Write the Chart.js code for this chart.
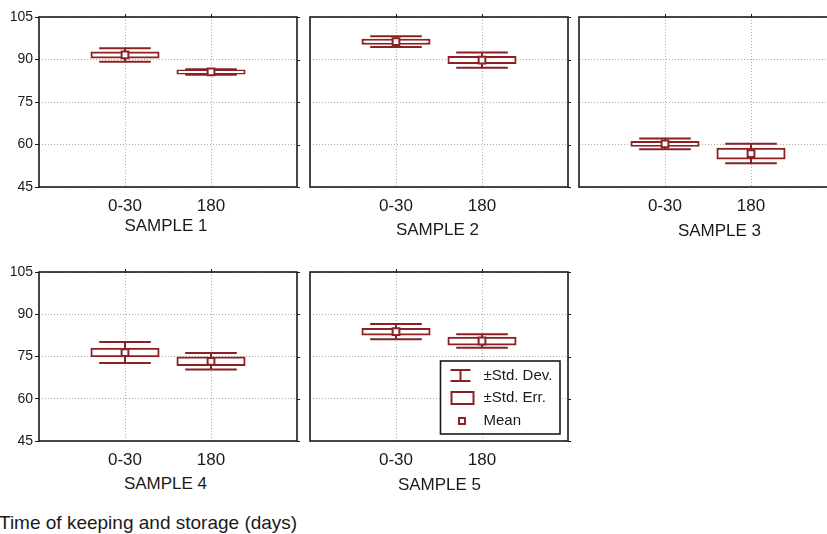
<!DOCTYPE html>
<html>
<head>
<meta charset="utf-8">
<script src="https://cdn.jsdelivr.net/npm/chart.js@4.4.0/dist/chart.umd.min.js"></script>
<style>
  html, body { margin:0; padding:0; background:#fff; width:827px; height:534px; overflow:hidden; position:relative;
    font-family:"Liberation Sans", Arial, sans-serif; color:#1a1a1a; }
  canvas { position:absolute; }
  .lbl { position:absolute; font-size:17px; line-height:17px; white-space:nowrap; transform:translateX(-50%); }
  #title { position:absolute; left:-1px; top:513px; font-size:19px; line-height:19px; white-space:nowrap; }
</style>
</head>
<body>
<div id="title"></div>
<script>
// ---------------- data ----------------
const categories = ['0-30', '180'];
const sampleNames = ['SAMPLE 1', 'SAMPLE 2', 'SAMPLE 3', 'SAMPLE 4', 'SAMPLE 5'];
const meanValues   = [[91.6, 85.6], [96.3, 89.8], [60.2, 56.8], [76.4, 73.3], [83.8, 80.5]];
const stdErrValues = [[0.85, 0.55], [0.7, 1.05], [0.65, 1.7], [1.35, 1.35], [0.95, 1.2]];
const stdDevValues = [[2.4, 0.95], [1.9, 2.7], [1.9, 3.45], [3.75, 2.95], [2.7, 2.4]];
const yTicks = [45, 60, 75, 90, 105];
const legendLabels = ['±Std. Dev.', '±Std. Err.', 'Mean'];
const axisTitle = 'Time of keeping and storage (days)';

// ---------------- layout / style ----------------
const RED = '#8c2124';
const INK = '#1a1a1a';
const GRID = '#ababab';
const FONT = '"Liberation Sans", Arial, sans-serif';
const Y_AXIS_W = 39, PAD_TOP = 17, PAD_RIGHT = 8, X_AXIS_H = 30;
const panelBoxes = [
  { left: 39,  top: 17,  w: 259, h: 170, yLabels: true,  nameX: 166,   nameY: 217 },
  { left: 310, top: 17,  w: 259, h: 170, yLabels: false, nameX: 437.5, nameY: 221 },
  { left: 579, top: 17,  w: 259, h: 170, yLabels: false, nameX: 719.5, nameY: 222 },
  { left: 39,  top: 272, w: 259, h: 169, yLabels: true,  nameX: 165.5, nameY: 475 },
  { left: 310, top: 272, w: 259, h: 169, yLabels: false, nameX: 439.5, nameY: 476, legend: true }
];

document.getElementById('title').textContent = axisTitle;

const whiskerPlugin = {
  id: 'whiskers',
  beforeDatasetsDraw(chart, args, opts) {
    const { ctx, scales: { x, y } } = chart;
    const step = x.getPixelForValue(2) - x.getPixelForValue(1);
    const half = step * 0.3;
    ctx.save();
    ctx.strokeStyle = RED;
    ctx.lineWidth = 2;
    opts.means.forEach((m, k) => {
      const px = x.getPixelForValue(k + 1);
      const top = y.getPixelForValue(m + opts.sds[k]);
      const bot = y.getPixelForValue(m - opts.sds[k]);
      ctx.beginPath();
      ctx.moveTo(px, top); ctx.lineTo(px, bot);
      ctx.moveTo(px - half, top); ctx.lineTo(px + half, top);
      ctx.moveTo(px - half, bot); ctx.lineTo(px + half, bot);
      ctx.stroke();
    });
    ctx.restore();
  }
};

const framePlugin = {
  id: 'frame',
  afterDatasetsDraw(chart) {
    const { ctx, chartArea: a, scales: { x, y } } = chart;
    ctx.save();
    ctx.strokeStyle = INK;
    ctx.lineWidth = 1.6;
    ctx.strokeRect(a.left, a.top, a.width, a.height);
    ctx.lineWidth = 1;
    ctx.beginPath();
    y.ticks.forEach(t => {
      const py = Math.round(y.getPixelForValue(t.value)) + 0.5;
      ctx.moveTo(a.right, py); ctx.lineTo(a.right + 3, py);
    });
    [1, 2].forEach(i => {
      const px = Math.round(x.getPixelForValue(i)) + 0.5;
      ctx.moveTo(px, a.top); ctx.lineTo(px, a.top - 3);
    });
    ctx.stroke();
    ctx.restore();
  }
};

const legendPlugin = {
  id: 'boxLegend',
  afterDraw(chart, args, opts) {
    if (!opts.show) return;
    const { ctx, chartArea: a } = chart;
    const L = a.right - 127.5, T = a.bottom - 80, R = a.right - 8, B = a.bottom - 7;
    ctx.save();
    ctx.fillStyle = '#fff';
    ctx.fillRect(L, T, R - L, B - T);
    ctx.strokeStyle = INK; ctx.lineWidth = 1.6;
    ctx.strokeRect(L, T, R - L, B - T);
    ctx.strokeStyle = RED; ctx.lineWidth = 2;
    const r1 = T + 15, r2 = T + 37, r3 = T + 60;
    // SD icon
    ctx.beginPath();
    ctx.moveTo(L + 10, r1 - 6); ctx.lineTo(L + 30, r1 - 6);
    ctx.moveTo(L + 10, r1 + 5); ctx.lineTo(L + 30, r1 + 5);
    ctx.moveTo(L + 20, r1 - 6); ctx.lineTo(L + 20, r1 + 5);
    ctx.stroke();
    // SE icon
    ctx.strokeRect(L + 11, r2 - 6, 22, 12);
    // Mean icon
    ctx.fillStyle = '#fff';
    ctx.fillRect(L + 18.5, r3 - 3, 6, 6);
    ctx.strokeRect(L + 18.5, r3 - 3, 6, 6);
    ctx.fillStyle = INK;
    ctx.font = '15px ' + FONT;
    ctx.textBaseline = 'middle';
    ctx.textAlign = 'left';
    ctx.fillText(legendLabels[0], L + 43, r1);
    ctx.fillText(legendLabels[1], L + 43, r2);
    ctx.fillText(legendLabels[2], L + 43, r3);
    ctx.restore();
  }
};

panelBoxes.forEach((p, i) => {
  const cv = document.createElement('canvas');
  const W = Y_AXIS_W + p.w + PAD_RIGHT;
  const H = PAD_TOP + p.h + X_AXIS_H;
  cv.width = W; cv.height = H;
  cv.style.left = (p.left - Y_AXIS_W) + 'px';
  cv.style.top = (p.top - PAD_TOP) + 'px';
  cv.style.width = W + 'px'; cv.style.height = H + 'px';
  document.body.appendChild(cv);

  const name = document.createElement('div');
  name.className = 'lbl';
  name.textContent = sampleNames[i];
  name.style.left = p.nameX + 'px';
  name.style.top = p.nameY + 'px';
  document.body.appendChild(name);

  const means = meanValues[i], ses = stdErrValues[i], sds = stdDevValues[i];
  const labels = [''].concat(categories, ['']);
  const boxData = [null].concat(means.map((m, k) => [m - ses[k], m + ses[k]]), [null]);
  const meanData = [null].concat(means, [null]);

  new Chart(cv, {
    type: 'bar',
    data: {
      labels: labels,
      datasets: [
        {
          type: 'bar', label: legendLabels[1], data: boxData,
          backgroundColor: '#ffffff', borderColor: RED, borderWidth: 2, borderSkipped: false,
          inflateAmount: 1, barPercentage: 0.78, categoryPercentage: 1, order: 2
        },
        {
          type: 'line', label: legendLabels[2], data: meanData, showLine: false,
          pointStyle: 'rect', pointRadius: 4.8, pointBackgroundColor: '#ffffff',
          pointBorderColor: RED, pointBorderWidth: 2, order: 1
        }
      ]
    },
    options: {
      responsive: false, animation: false,
      layout: { padding: { top: PAD_TOP, right: PAD_RIGHT, bottom: 0, left: 0 } },
      plugins: {
        legend: { display: false }, tooltip: { enabled: false },
        whiskers: { means: means, sds: sds },
        boxLegend: { show: !!p.legend }
      },
      scales: {
        x: {
          type: 'category', offset: false,
          grid: {
            offset: false, drawTicks: false, lineWidth: 1,
            color: c => (c.index === 1 || c.index === 2) ? GRID : 'rgba(0,0,0,0)'
          },
          border: { display: false, dash: [1, 2] },
          ticks: { padding: 9, color: INK, font: { family: FONT, size: 17 }, maxRotation: 0, autoSkip: false },
          afterFit: s => { s.height = X_AXIS_H; }
        },
        y: {
          min: 45, max: 105,
          afterBuildTicks: s => { s.ticks = yTicks.map(v => ({ value: v })); },
          grid: { color: GRID, lineWidth: 1, drawTicks: p.yLabels, tickLength: 4, tickColor: INK, tickBorderDash: [] },
          border: { display: false, dash: [1, 2] },
          ticks: { display: p.yLabels, padding: 2, color: INK, font: { family: FONT, size: 14 } },
          afterFit: s => { s.width = Y_AXIS_W; }
        }
      }
    },
    plugins: [whiskerPlugin, framePlugin, legendPlugin]
  });
});
</script>
</body>
</html>
